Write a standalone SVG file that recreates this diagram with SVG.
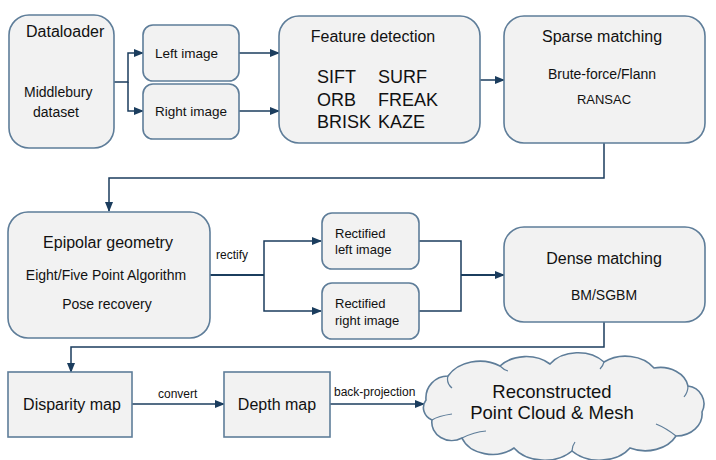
<svg xmlns="http://www.w3.org/2000/svg" width="716" height="460" viewBox="0 0 716 460">
<defs>
<marker id="ah" markerUnits="userSpaceOnUse" markerWidth="10" markerHeight="8" refX="9" refY="4" orient="auto">
<path d="M0,0 L10,4 L0,8 Z" fill="#1b3d5e"/>
</marker>
<style>
.n{fill:#f2f2f2;stroke:#5e7d99;stroke-width:1.6}
.c{fill:none;stroke:#1b3d5e;stroke-width:1.5}
.c2{fill:none;stroke:#1b3d5e;stroke-width:2}
text{font-family:"Liberation Sans",Arial,sans-serif;fill:#111}
.t16{font-size:16px}
.t14{font-size:14px}
.t13{font-size:13.5px}
.t18{font-size:18.5px}
.f18{font-size:18px}
.l{font-size:12px}
</style>
</defs>
<rect width="716" height="460" fill="#fff"/>
<g id="connectors">
<path class="c" d="M114,82 H128 V53 H143" marker-end="url(#ah)"/>
<path class="c" d="M128,82 V111 H143" marker-end="url(#ah)"/>
<path class="c" d="M239,53 H279" marker-end="url(#ah)"/>
<path class="c" d="M239,111 H279" marker-end="url(#ah)"/>
<path class="c" d="M480,80 H504" marker-end="url(#ah)"/>
<path class="c" d="M604,143 V178 H109 V211" marker-end="url(#ah)"/>
<path class="c2" d="M206,275 H264"/>
<path class="c" d="M264,275 V241 H321" marker-end="url(#ah)"/>
<path class="c" d="M264,275 V311 H321" marker-end="url(#ah)"/>
<path class="c" d="M419,241 H461 V311 H419"/>
<path class="c2" d="M461,275 H504" marker-end="url(#ah)"/>
<path class="c" d="M604,322 V347 H71 V372" marker-end="url(#ah)"/>
<path class="c" d="M132,404 H224" marker-end="url(#ah)"/>
<path class="c" d="M330,404 H424" marker-end="url(#ah)"/>
<text class="l" x="216" y="259">rectify</text>
<text class="l" x="158" y="398">convert</text>
<text class="l" x="334" y="396">back-projection</text>
</g>
<g id="dataloader">
<rect class="n" x="9" y="15" width="105" height="133" rx="20"/>
<text class="t16" x="26" y="37">Dataloader</text>
<text class="t14" x="24" y="97">Middlebury</text>
<text class="t14" x="33" y="117">dataset</text>
</g>
<g id="left-image">
<rect class="n" x="143" y="25" width="96" height="56" rx="10"/>
<text class="t13" x="155" y="58">Left image</text>
</g>
<g id="right-image">
<rect class="n" x="143" y="84" width="96" height="55" rx="10"/>
<text class="t13" x="155" y="116">Right image</text>
</g>
<g id="feature-detection">
<rect class="n" x="279" y="16" width="201" height="127" rx="20"/>
<text class="t16" x="373" y="42" text-anchor="middle">Feature detection</text>
<text class="f18" x="317" y="83">SIFT</text>
<text class="f18" x="378" y="83">SURF</text>
<text class="f18" x="317" y="106">ORB</text>
<text class="f18" x="378" y="106">FREAK</text>
<text class="f18" x="317" y="128">BRISK</text>
<text class="f18" x="378" y="128">KAZE</text>
</g>
<g id="sparse-matching">
<rect class="n" x="504" y="16" width="201" height="127" rx="20"/>
<text class="t16" x="602" y="42" text-anchor="middle">Sparse matching</text>
<text class="t14" x="602" y="79" text-anchor="middle">Brute-force/Flann</text>
<text style="font-size:13px" x="604" y="104" text-anchor="middle">RANSAC</text>
</g>
<g id="epipolar-geometry">
<rect class="n" x="8" y="212" width="202" height="126" rx="20"/>
<text class="t16" x="108" y="248" text-anchor="middle">Epipolar geometry</text>
<text class="t14" x="106" y="280" text-anchor="middle">Eight/Five Point Algorithm</text>
<text class="t14" x="107" y="309" text-anchor="middle">Pose recovery</text>
</g>
<g id="rectified-left">
<rect class="n" x="322" y="213" width="97" height="56" rx="10"/>
<text style="font-size:13px" x="335" y="238">Rectified</text>
<text style="font-size:13px" x="335" y="254">left image</text>
</g>
<g id="rectified-right">
<rect class="n" x="322" y="283" width="97" height="56" rx="10"/>
<text style="font-size:13px" x="335" y="308">Rectified</text>
<text style="font-size:13px" x="335" y="325">right image</text>
</g>
<g id="dense-matching">
<rect class="n" x="504" y="227" width="201" height="95" rx="20"/>
<text class="t16" x="604" y="264" text-anchor="middle">Dense matching</text>
<text class="t14" x="604" y="300" text-anchor="middle">BM/SGBM</text>
</g>
<g id="disparity-map">
<rect class="n" x="8" y="372" width="124" height="65"/>
<text class="t16" x="72" y="410" text-anchor="middle">Disparity map</text>
</g>
<g id="depth-map">
<rect class="n" x="224" y="372" width="106" height="65"/>
<text class="t16" x="277" y="410" text-anchor="middle">Depth map</text>
</g>
<g id="point-cloud">
<path class="n" d="M426,400 A22,22 0 0 1 448,376 A36,28 0 0 1 500,366 A34,26 0 0 1 550,364 A34,26 0 0 1 604,362 A34,26 0 0 1 654,368 A28,22 0 0 1 688,386 A18,18 0 0 1 702,412 A26,22 0 0 1 676,436 A34,26 0 0 1 630,448 A36,26 0 0 1 572,451 A36,26 0 0 1 514,448 A32,24 0 0 1 462,438 A20,18 0 0 1 432,420 A16,14 0 0 1 426,400 Z"/>
<path fill="none" stroke="#5e7d99" stroke-width="1.2" d="M448,376 Q446,383 452,388 M500,366 Q504,370 508,371 M604,362 Q603,366 600,369 M688,386 Q688,392 684,397 M676,436 Q666,428 656,424 M572,451 Q572,446 575,442 M462,438 Q474,432 486,431 M432,420 Q438,416 452,414"/>
<text class="t18" x="552" y="398" text-anchor="middle">Reconstructed</text>
<text class="t18" x="552" y="419" text-anchor="middle">Point Cloud &amp; Mesh</text>
</g>
</svg>
